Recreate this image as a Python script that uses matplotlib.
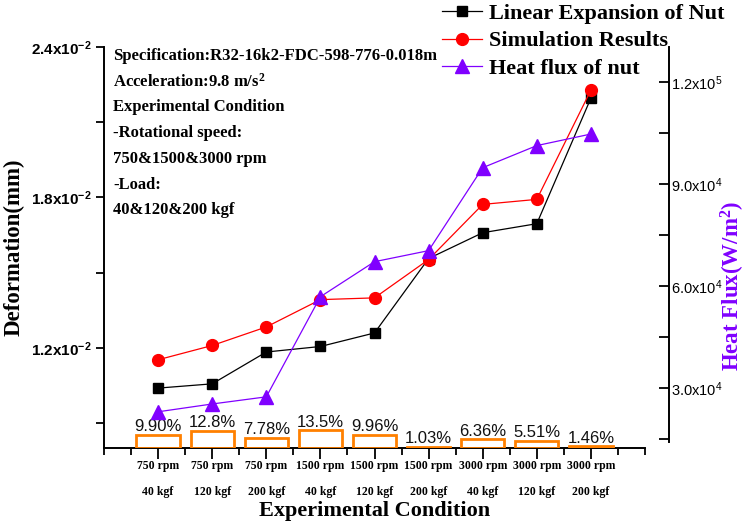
import matplotlib
matplotlib.use("Agg")
import matplotlib.pyplot as plt
from matplotlib.ticker import FixedLocator, FuncFormatter
import numpy as np

plt.rcParams['mathtext.fontset'] = 'custom'
plt.rcParams['mathtext.rm'] = 'Liberation Serif:bold'
plt.rcParams['mathtext.bf'] = 'Liberation Sans:bold'
plt.rcParams['mathtext.sf'] = 'Liberation Sans'
plt.rcParams['mathtext.it'] = 'Liberation Serif:bold'

# ---------------- data ----------------
speeds = ["750 rpm", "750 rpm", "750 rpm", "1500 rpm", "1500 rpm", "1500 rpm",
          "3000 rpm", "3000 rpm", "3000 rpm"]
loads = ["40 kgf", "120 kgf", "200 kgf", "40 kgf", "120 kgf", "200 kgf",
         "40 kgf", "120 kgf", "200 kgf"]
linear_expansion = [0.01039, 0.01056, 0.01183, 0.01205, 0.01259, 0.01556,
                    0.01659, 0.01695, 0.02196]
simulation = [0.01152, 0.01209, 0.01283, 0.01392, 0.01399, 0.01552,
              0.01772, 0.01792, 0.02228]
heat_flux = [23000, 25300, 27400, 56850, 67150, 70400, 94800, 101300, 104700]
error_pct = [9.90, 12.8, 7.78, 13.5, 9.96, 1.03, 6.36, 5.51, 1.46]
error_labels = ["9.90%", "12.8%", "7.78%", "13.5%", "9.96%", "1.03%",
                "6.36%", "5.51%", "1.46%"]

x = np.arange(1, len(speeds) + 1)

W, H = 748, 524
fig = plt.figure(figsize=(W / 100, H / 100), dpi=100)
L, R, T, B = 104, 645, 47, 448
ax = fig.add_axes([L / W, 1 - B / H, (R - L) / W, (B - T) / H])

serif = 'Liberation Serif'
sans = 'Liberation Sans'
black = '#000000'
red = '#FF0000'
purple = '#8000FF'
orange = '#FF8000'

# bars (third axis)
ax3 = ax.twinx()
ax3.set_ylim(0, 300)
ax3.axis('off')
ax3.bar(x, error_pct, width=0.8, facecolor='none', edgecolor=orange, linewidth=2)
for xi, v, lab in zip(x, error_pct, error_labels):
    ax3.text(xi, v + 0.3, lab, ha='center', va='bottom', fontsize=12,
             family=sans, color='#111111')

# left axis lines
l1, = ax.plot(x, linear_expansion, color=black, marker='s', markersize=7.5,
              linewidth=0.9, label='Linear Expansion of Nut')
l2, = ax.plot(x, simulation, color=red, marker='o', markersize=8.5,
              linewidth=0.9, label='Simulation Results')
ax.set_xlim(0, 10)
ax.set_ylim(0.008, 0.024)

# right axis
ax2 = ax.twinx()
l3, = ax2.plot(x, heat_flux, color=purple, marker='^', markersize=9.5,
               linewidth=0.9, label='Heat flux of nut')
ax2.set_ylim(12350, 130300)

# spines
for s in ['top', 'right']:
    ax.spines[s].set_visible(False)
for s in ['top', 'left', 'bottom']:
    ax2.spines[s].set_visible(False)
ax2.spines['right'].set_position(('outward', 17))
ax2.spines['right'].set_bounds(14200, 130300)
for sp in [ax.spines['left'], ax.spines['bottom'], ax2.spines['right']]:
    sp.set_linewidth(1.4)

# left ticks
ax.yaxis.set_major_locator(FixedLocator([0.012, 0.018, 0.024]))
ax.yaxis.set_minor_locator(FixedLocator([0.009, 0.015, 0.021]))
ax.yaxis.set_major_formatter(FuncFormatter(
    lambda v, p: r'$\mathbf{%.1fx10^{-2}}$' % (v * 100)))
ax.tick_params(axis='y', which='both', direction='out', length=6, width=1.3,
               labelsize=11, pad=3)

# right ticks
ax2.yaxis.set_major_locator(FixedLocator([30000, 60000, 90000, 120000]))
ax2.yaxis.set_minor_locator(FixedLocator([15000, 45000, 75000, 105000]))
def rfmt(v, p):
    e = int(np.floor(np.log10(v)))
    m = v / 10 ** e
    return r'$\mathsf{%.1fx10^{%d}}$' % (m, e)
ax2.yaxis.set_major_formatter(FuncFormatter(rfmt))
ax2.tick_params(axis='y', which='both', direction='in', length=7, width=1.3,
                labelsize=10.5, pad=2)

# x ticks
ax.xaxis.set_major_locator(FixedLocator(list(x)))
ax.xaxis.set_minor_locator(FixedLocator([0] + [i + 0.5 for i in range(0, 10)] + [10]))
ax.set_xticklabels([f"{s}\n{l}" for s, l in zip(speeds, loads)],
                   family=serif, fontweight='bold', fontsize=8.5, linespacing=2.45)
ax.tick_params(axis='x', which='major', direction='out', length=8, width=1.3, pad=1)
ax.tick_params(axis='x', which='minor', direction='out', length=5, width=1.3)

# axis labels
fig.text((L + R) / 2 / W, 1 - 511 / H, 'Experimental Condition', family=serif,
         fontweight='bold', fontsize=16, ha='center', va='center')
fig.text(14 / W, 1 - 247 / H, 'Deformation(mm)', rotation=90, family=serif,
         fontweight='bold', fontsize=16.5, ha='center', va='center')
fig.text(733 / W, 1 - 286 / H, r'Heat Flux(W/m$^{2}$)', rotation=90, family=serif,
         fontweight='bold', fontsize=16.5, ha='center', va='center', color=purple)

# annotation block
lines = ['Specification:R32-16k2-FDC-598-776-0.018m',
         r'Acceleration:9.8 m/s$^{2}$',
         'Experimental Condition',
         '-Rotational speed:',
         '750&1500&3000 rpm',
         '-Load:',
         '40&120&200 kgf']
for i, t in enumerate(lines):
    fig.text(113 / W, 1 - (56 + 25.7 * i) / H, t, family=serif, fontweight='bold',
             fontsize=12, ha='left', va='center')

# legend
leg = fig.legend(handles=[l1, l2, l3], loc='upper left',
                 bbox_to_anchor=(440 / W, 1 - 1 / H), frameon=False,
                 prop={'family': serif, 'weight': 'bold', 'size': 16},
                 handlelength=1.8, handletextpad=0.3, labelspacing=0.32,
                 borderpad=0.1, borderaxespad=0)

fig.savefig('out.png', dpi=100)
